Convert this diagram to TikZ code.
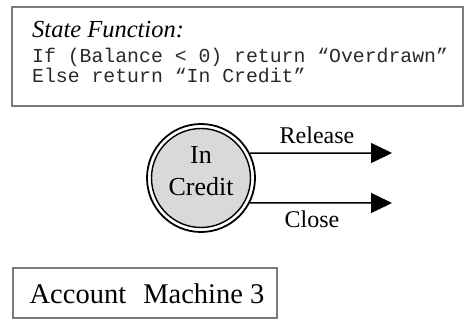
\documentclass[tikz,border=0pt]{standalone}
\usepackage{fontspec}
\setmainfont{Liberation Serif}
\setmonofont{Liberation Mono}
\usetikzlibrary{arrows.meta}
\definecolor{boxgray}{HTML}{7A7A7A}
\definecolor{statefill}{HTML}{D9D9D9}
\definecolor{codegray}{HTML}{2A2A2A}
\tikzset{
  framebox/.style={draw=boxgray, line width=2pt},
  edge/.style={line width=1.5pt, -{Triangle[length=21pt,width=20pt]}},
  lbl/.style={font=\fontsize{24}{28}\selectfont, inner sep=0pt},
  code/.style={anchor=base west, inner sep=0pt, text=codegray, font=\fontsize{19.8}{22}\selectfont\ttfamily},
}
\begin{document}
\begin{tikzpicture}[x=1pt,y=-1pt]
\useasboundingbox (0,0) rectangle (465,320);
% top frame
\draw[framebox] (12,7) rectangle (463,106);
\node[anchor=base west, inner sep=0pt, font=\fontsize{24.5}{27}\selectfont\itshape] (title) at (32,38) {State Function:};
\node[code] (l1) at (32,63) {If (Balance < 0) return “Overdrawn”};
\node[code] (l2) at (32,83) {Else return “In Credit”};
% state
\node[circle, draw, line width=1.8pt, minimum size=108pt, inner sep=0pt] (outer) at (201,178) {};
\node[circle, draw, fill=statefill, line width=1.4pt, minimum size=99pt, inner sep=0pt] (st) at (201,178) {};
\node[align=center, inner sep=0pt, font=\fontsize{26}{32}\selectfont] (sttext) at (201,171.5) {In\\Credit};
\coordinate (r1) at (392,153);
\coordinate (c1) at (392,203);
\draw[edge] (outer.27.6) -- (r1);
\draw[edge] (outer.-27.6) -- (c1);
\node[lbl] (rl) at (317,135) {Release};
\node[lbl] (cl) at (312,219) {Close};
% bottom frame
\draw[framebox] (13,268) rectangle (277,318);
\node[anchor=base, inner sep=0pt, font=\fontsize{28.5}{32}\selectfont] (name) at (147,303) {Account\hspace{0.6em}Machine 3};
\end{tikzpicture}
\end{document}
